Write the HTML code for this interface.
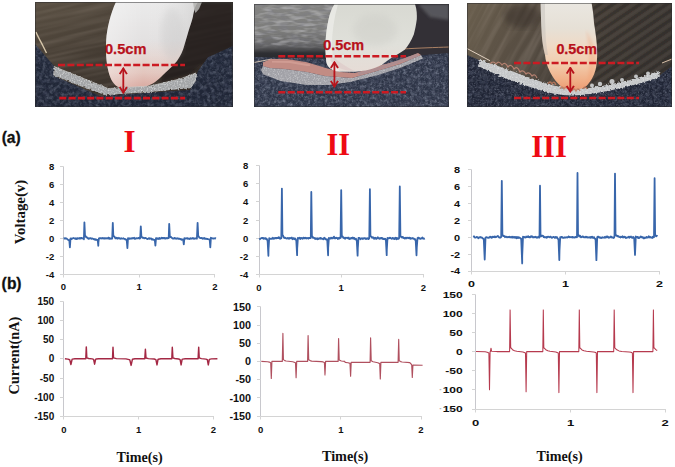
<!DOCTYPE html>
<html><head><meta charset="utf-8"><style>
html,body{margin:0;padding:0;background:#fff;}
body{width:675px;height:467px;overflow:hidden;position:relative;}
svg{position:absolute;left:0;top:0;}
.ax{fill:none;stroke:#d4d4d4;stroke-width:1;}
.vl{fill:none;stroke:#3866ab;stroke-width:1.8;stroke-linejoin:round;}
.cl{fill:none;stroke:#b43a52;stroke-width:1.3;stroke-linejoin:round;}
.tl{font-family:"Liberation Sans",sans-serif;font-weight:bold;font-size:9.5px;fill:#111;}
.tv{font-family:"Liberation Sans",sans-serif;font-weight:bold;font-size:9.3px;fill:#111;}
.tl1{font-family:"Liberation Sans",sans-serif;font-weight:bold;font-size:10px;fill:#111;}
.tl2{font-family:"Liberation Sans",sans-serif;font-weight:bold;font-size:10.8px;fill:#111;}
.rn{font-family:"Liberation Serif",serif;font-weight:bold;font-size:31px;fill:#ee0a14;}
.lab{font-family:"Liberation Serif",serif;font-weight:bold;fill:#111;}
.pl{font-family:"Liberation Sans",sans-serif;font-weight:bold;font-size:15.6px;fill:#111;stroke:#111;stroke-width:0.3px;}
.cm{font-family:"Liberation Sans",sans-serif;font-weight:bold;font-size:14.4px;fill:#b8121c;stroke:#b8121c;stroke-width:0.25px;}
</style></head><body>
<svg width="675" height="467" viewBox="0 0 675 467">
<defs>
<filter id="grain" x="0" y="0" width="100%" height="100%">
  <feTurbulence type="fractalNoise" baseFrequency="0.55" numOctaves="3" seed="4" result="n"/>
  <feColorMatrix type="matrix" values="0 0 0 0 0.75  0 0 0 0 0.8  0 0 0 0 0.95  0 0 0 2.0 -0.95" in="n" result="w"/>
  <feComposite in="w" in2="SourceGraphic" operator="in"/>
</filter>
<filter id="grain2" x="0" y="0" width="100%" height="100%">
  <feTurbulence type="fractalNoise" baseFrequency="0.7" numOctaves="2" seed="9" result="n"/>
  <feColorMatrix type="matrix" values="0 0 0 0 1  0 0 0 0 1  0 0 0 0 1  0 0 0 2.2 -1.0" in="n" result="w"/>
  <feComposite in="w" in2="SourceGraphic" operator="in"/>
</filter>
<filter id="woodf" x="0" y="0" width="100%" height="100%">
  <feTurbulence type="fractalNoise" baseFrequency="0.012 0.22" numOctaves="2" seed="2" result="n"/>
  <feColorMatrix type="matrix" values="0 0 0 0 0.55  0 0 0 0 0.47  0 0 0 0 0.40  0 0 0 1.6 -0.55" in="n" result="w"/>
  <feComposite in="w" in2="SourceGraphic" operator="in"/>
</filter>
<filter id="fabL" x="0" y="0" width="100%" height="100%">
  <feTurbulence type="fractalNoise" baseFrequency="0.28" numOctaves="3" seed="7" result="n0"/>
  <feGaussianBlur in="n0" stdDeviation="0.45" result="n"/>
  <feColorMatrix type="matrix" values="0 0 0 0 0.6  0 0 0 0 0.66  0 0 0 0 0.8  0 0 0 2.6 -1.12" in="n" result="w"/>
  <feComposite in="w" in2="SourceGraphic" operator="in"/>
</filter>
<filter id="fabD" x="0" y="0" width="100%" height="100%">
  <feTurbulence type="fractalNoise" baseFrequency="0.25" numOctaves="2" seed="21" result="n0"/>
  <feGaussianBlur in="n0" stdDeviation="0.5" result="n"/>
  <feColorMatrix type="matrix" values="0 0 0 0 0.05  0 0 0 0 0.06  0 0 0 0 0.1  0 0 0 3.0 -1.35" in="n" result="w"/>
  <feComposite in="w" in2="SourceGraphic" operator="in"/>
</filter>
<filter id="knit" x="0" y="0" width="100%" height="100%">
  <feTurbulence type="fractalNoise" baseFrequency="0.09 0.32" numOctaves="2" seed="5" result="n0"/>
  <feGaussianBlur in="n0" stdDeviation="0.5" result="n"/>
  <feColorMatrix type="matrix" values="0 0 0 0 0.2  0 0 0 0 0.2  0 0 0 0 0.24  0 0 0 3.0 -1.25" in="n" result="w"/>
  <feComposite in="w" in2="SourceGraphic" operator="in"/>
</filter>
<filter id="knitL" x="0" y="0" width="100%" height="100%">
  <feTurbulence type="fractalNoise" baseFrequency="0.08 0.3" numOctaves="2" seed="15" result="n0"/>
  <feGaussianBlur in="n0" stdDeviation="0.5" result="n"/>
  <feColorMatrix type="matrix" values="0 0 0 0 0.75  0 0 0 0 0.75  0 0 0 0 0.78  0 0 0 3.0 -1.3" in="n" result="w"/>
  <feComposite in="w" in2="SourceGraphic" operator="in"/>
</filter>
<filter id="fuzz" x="-5%" y="-20%" width="110%" height="140%">
  <feTurbulence type="fractalNoise" baseFrequency="0.5" numOctaves="2" seed="3" result="t"/>
  <feDisplacementMap in="SourceGraphic" in2="t" scale="3.5" xChannelSelector="R" yChannelSelector="G" result="d"/>
  <feGaussianBlur in="d" stdDeviation="0.4"/>
</filter>
<filter id="blur1"><feGaussianBlur stdDeviation="0.7"/></filter>
<filter id="blur2"><feGaussianBlur stdDeviation="1.5"/></filter>
<filter id="blur3"><feGaussianBlur stdDeviation="3"/></filter>
<linearGradient id="wood1" x1="0" y1="0" x2="0.7" y2="1">
  <stop offset="0" stop-color="#5a5043"/><stop offset="0.35" stop-color="#4a4137"/><stop offset="0.7" stop-color="#3a322b"/><stop offset="1" stop-color="#2c2520"/>
</linearGradient>
<linearGradient id="fing1" x1="0" y1="0" x2="0" y2="1">
  <stop offset="0" stop-color="#ebebeb"/><stop offset="0.45" stop-color="#e3e1e1"/><stop offset="0.62" stop-color="#e5d8d4"/><stop offset="0.82" stop-color="#e3c6be"/><stop offset="1" stop-color="#d9a79e"/>
</linearGradient>
<linearGradient id="fing1s" x1="0" y1="0" x2="1" y2="0">
  <stop offset="0" stop-color="#fff" stop-opacity="0.35"/><stop offset="0.4" stop-color="#fff" stop-opacity="0"/><stop offset="1" stop-color="#888" stop-opacity="0.2"/>
</linearGradient>
<linearGradient id="fab" x1="0" y1="0" x2="0" y2="1">
  <stop offset="0" stop-color="#232a3b"/><stop offset="1" stop-color="#1f2535"/>
</linearGradient>
<linearGradient id="bg2" x1="0" y1="0" x2="0" y2="1">
  <stop offset="0" stop-color="#858583"/><stop offset="0.55" stop-color="#7c7c7a"/><stop offset="0.85" stop-color="#626264"/><stop offset="1" stop-color="#404146"/>
</linearGradient>
<linearGradient id="fing2" x1="0" y1="0" x2="0" y2="1">
  <stop offset="0" stop-color="#d8d9d2"/><stop offset="0.6" stop-color="#e0e0da"/><stop offset="1" stop-color="#e6dcd6"/>
</linearGradient>
<linearGradient id="wood3" x1="0" y1="0" x2="1" y2="0.3">
  <stop offset="0" stop-color="#6a5f4e"/><stop offset="0.3" stop-color="#5a5044"/><stop offset="0.6" stop-color="#48413a"/><stop offset="1" stop-color="#3f3a36"/>
</linearGradient>
<linearGradient id="fing3" x1="0" y1="0" x2="0" y2="1">
  <stop offset="0" stop-color="#eae7e1"/><stop offset="0.3" stop-color="#e6e0d6"/><stop offset="0.5" stop-color="#efdac6"/><stop offset="0.7" stop-color="#f2cdae"/><stop offset="0.9" stop-color="#f0ae86"/><stop offset="1" stop-color="#eb9c74"/>
</linearGradient>
<pattern id="stripes2" width="6" height="3.4" patternUnits="userSpaceOnUse">
  <rect y="0" width="6" height="1.3" fill="#a4a4a2" fill-opacity="0.22"/>
</pattern>
<pattern id="diag3" width="8" height="7.5" patternUnits="userSpaceOnUse" patternTransform="rotate(-34)">
  <rect width="8" height="2.8" fill="#1c1816" fill-opacity="0.34"/>
  <rect y="4.3" width="8" height="1.6" fill="#6a625a" fill-opacity="0.14"/>
</pattern>
<clipPath id="cp3L"><path d="M467,3 L592,3 L592,107 L467,107 Z"/></clipPath>
<linearGradient id="band2" x1="0" y1="0" x2="0" y2="1">
  <stop offset="0" stop-color="#5a5a5c" stop-opacity="0"/><stop offset="0.3" stop-color="#4c4c4e" stop-opacity="0.8"/><stop offset="0.6" stop-color="#2e2f33"/><stop offset="1" stop-color="#282a2f"/>
</linearGradient>
<clipPath id="cp1"><rect x="35" y="2" width="198" height="105"/></clipPath>
<clipPath id="cp2"><rect x="254" y="4" width="195" height="103"/></clipPath>
<clipPath id="cp3"><rect x="467" y="3" width="205" height="104"/></clipPath>
<marker id="ah" viewBox="0 0 10 10" refX="8.6" refY="5" markerWidth="7.5" markerHeight="8.6" orient="auto-start-reverse" markerUnits="userSpaceOnUse" preserveAspectRatio="none">
  <path d="M1,0.8 L8.6,5 L1,9.2" fill="none" stroke="#b8141c" stroke-width="2.2" stroke-linejoin="miter"/>
</marker>
</defs>

<!-- ============ PHOTO 1 ============ -->
<g clip-path="url(#cp1)">
  <rect x="35" y="2" width="198" height="105" fill="url(#wood1)"/>
  <rect x="-5" y="-40" width="280" height="190" fill="#fff" filter="url(#woodf)" transform="rotate(-12 130 50)" opacity="0.2"/>
  <!-- glass edge highlight -->
  <path d="M36,32 C38,37 41,42 43,46 C44.5,49 45.5,51 46.5,53" stroke="#e2d2b4" stroke-width="1.4" fill="none" opacity="0.9"/>
  <!-- right dark region -->
  <path d="M182,2 L233,2 L233,48 L200,66 L190,74 L160,84 Z" fill="#221d1b" opacity="0.75" filter="url(#blur2)"/>
  <!-- finger -->
  <path id="f1" d="M116.4,1 C111,12 107,28 106.2,40 C105.6,52 106,66 110.3,77.3 C113,84 117,88 124,88.5 L140,88 C150,86 156,82 161,77 C168,70 173,66 177,61 C181,55 183,50 184,46.4 C186,40 187.5,35 188.4,31.6 C190,26 192,21 192.9,16.8 C193.5,13 194,11 194.4,9.4 C195.5,6 197,3 199,1 Z" fill="url(#fing1)"/>
  <path d="M116.4,1 C111,12 107,28 106.2,40 C105.6,52 106,66 110.3,77.3 C113,84 117,88 124,88.5 L140,88 C150,86 156,82 161,77 C168,70 173,66 177,61 C181,55 183,50 184,46.4 C186,40 187.5,35 188.4,31.6 C190,26 192,21 192.9,16.8 C193.5,13 194,11 194.4,9.4 C195.5,6 197,3 199,1 Z" fill="url(#fing1s)"/>
  <ellipse cx="172" cy="34" rx="11" ry="26" fill="#c4c4c4" opacity="0.3" filter="url(#blur3)"/>
  <path d="M193,2 L202,2 L199,9 L195.5,13 L194,9 Z" fill="#b4b4b2" opacity="0.85" filter="url(#blur1)"/>
  <!-- fabric -->
  <path d="M35,44 L42,52 L48,59 L54.3,66 L54,76 L100,96 L190,90 L198.5,70 L208,57.3 L233,46 L233,108 L35,108 Z" fill="url(#fab)"/>
  <path d="M35,44 L42,52 L48,59 L54.3,66 L54,76 L100,96 L190,90 L198.5,70 L208,57.3 L233,46 L233,108 L35,108 Z" fill="#fff" opacity="0.25" filter="url(#fabL)"/>
  <path d="M35,44 L42,52 L48,59 L54.3,66 L54,76 L100,96 L190,90 L198.5,70 L208,57.3 L233,46 L233,108 L35,108 Z" fill="#fff" opacity="0.6" filter="url(#fabD)"/>
  <!-- silver strip -->
  <path d="M54,66.5 L80,77 L108,88.5 L150,86 L180,79 L196,73 L196.5,80 L191,88 L150,92 L105,95 L80,86 L53,75 Z" fill="#a3a5a7" filter="url(#fuzz)"/>
  <path d="M54,66.5 L80,77 L108,88.5 L150,86 L180,79 L196,73 L196.5,80 L191,88 L150,92 L105,95 L80,86 L53,75 Z" fill="#ffffff" opacity="0.6" filter="url(#grain2)"/>
  <path d="M54,66.5 L80,77 L108,88.5 L150,86 L180,79 L196,73" stroke="#c8c8c4" stroke-width="1" fill="none" opacity="0.7"/>
  <!-- dashed lines -->
  <path d="M58,64.9 H185" stroke="#cc1a22" stroke-width="2.5" stroke-dasharray="7 2.4" fill="none"/>
  <path d="M59.3,98.2 H185" stroke="#d0141e" stroke-width="2.8" stroke-dasharray="7 2.3" fill="none"/>
  <!-- arrow -->
  <path d="M123.3,68.4 V92.7" stroke="#b8141c" stroke-width="1.8" fill="none" marker-start="url(#ah)" marker-end="url(#ah)"/>
  <text x="105.0" y="53.9" class="cm" textLength="41.4" lengthAdjust="spacingAndGlyphs">0.5cm</text>
</g>

<!-- ============ PHOTO 2 ============ -->
<g clip-path="url(#cp2)">
  <rect x="254" y="4" width="195" height="103" fill="#2d3446"/>
  <rect x="254" y="4" width="110" height="50" fill="url(#bg2)"/>
  <rect x="254" y="4" width="110" height="50" fill="#fff" filter="url(#knit)" opacity="0.42"/>
  <rect x="254" y="4" width="110" height="50" fill="#fff" filter="url(#knitL)" opacity="0.35"/>
  <rect x="254" y="44" width="110" height="15" fill="url(#band2)"/>
  <rect x="330" y="52" width="119" height="7" fill="#2a2c31"/>
  <!-- right dark hand -->
  <path d="M400,4 L449,4 L449,56 L410,58 L395,52 Z" fill="#333036"/>
  <path d="M418,4 L449,4 L449,20 L430,17 Z" fill="#56565c" filter="url(#blur2)"/>
  <!-- fabric -->
  <path d="M254,57 L330,59 L400,57 L449,53 L449,108 L254,108 Z" fill="#2d3446"/>
  <path d="M254,57 L330,59 L400,57 L449,53 L449,108 L254,108 Z" fill="#fff" opacity="0.3" filter="url(#fabL)"/>
  <path d="M254,57 L330,59 L400,57 L449,53 L449,108 L254,108 Z" fill="#a8b8d8" opacity="0.3" filter="url(#grain)"/>
  <path d="M254,57 L330,59 L400,57 L449,53 L449,108 L254,108 Z" fill="#fff" opacity="0.7" filter="url(#fabD)"/>
  <!-- wire -->
  <path d="M254,62.5 C260,61.5 266,60 272,59" stroke="#d0c0b0" stroke-width="1" fill="none"/>
  <path d="M402,49 C420,48 435,47.5 449,47" stroke="#b88a6a" stroke-width="0.9" fill="none"/>
  <!-- strip body (gray side) -->
  <path d="M263,66 L270,68 L285,69 L307,72 L325,76 L352,78 L375,71.5 L400,64 L421,55 L423,58.5 L400,68 L378,75 L350,82 L328.7,85 L307,85 L280.7,81 L263,74.3 L261,70 Z" fill="#a2a2a8"/>
  <path d="M263,66 L270,68 L285,69 L307,72 L325,76 L352,78 L375,71.5 L400,64 L421,55 L423,58.5 L400,68 L378,75 L350,82 L328.7,85 L307,85 L280.7,81 L263,74.3 L261,70 Z" fill="#fff" opacity="0.45" filter="url(#grain2)"/>
  <!-- strip top surface pink -->
  <path d="M263,62.3 L271,59 L287,59 L307,62.3 L325,67.7 L340,72 L355,73 L375,67 L400,60 L418,53 L421,55 L400,64 L375,71.5 L352,78 L325,76 L307,72 L285,69 L270,68 L263,66 Z" fill="#c28c84"/>
  <path d="M272,61.5 L290,62 L310,65.5" stroke="#dcaaa0" stroke-width="2" fill="none" opacity="0.55" filter="url(#blur1)"/>
  <path d="M358,74 L380,68 L418,55" stroke="#a89096" stroke-width="3" fill="none" opacity="0.7" filter="url(#blur1)"/>
  <!-- finger -->
  <path d="M334.6,4 L415,4 C417,10 417,15 416.8,19.2 C416,25 415,30 413.8,34.4 C411,41 408,46 404.7,49.7 C400,53 396,55.5 392.5,57.3 C388,60 385,62.5 381.8,64.9 C377,67 373,68.5 369.7,69.4 C364,70.8 359,71.5 354.4,71.7 C347,72 340,72 335,71 C330,69 327,66 326.3,61.8 C325.5,55 325.3,48 325.5,42 C326,34 327,26 328.6,19.2 C330,13 332,8 334.6,4 Z" fill="url(#fing2)"/>
  <path d="M334.6,4 C332,8 330,13 328.6,19.2 C327,26 326,34 325.5,42 C325.3,48 325.5,55 326.3,61.8 C327,66 330,69 335,71 L340,71.5 C334,64 332,55 332,45 C332,32 334,18 338,4 Z" fill="#f2f2ee" opacity="0.6"/>
  <ellipse cx="375" cy="30" rx="22" ry="16" fill="#c8c8c2" opacity="0.35" filter="url(#blur3)"/>
  <path d="M330,60 C335,68 345,71 355,71 C345,66 338,62 332,55 Z" fill="#dcc4c4" opacity="0.5" filter="url(#blur1)"/>
  <!-- dashed -->
  <path d="M278.3,56.2 H406" stroke="#cc1a22" stroke-width="2.5" stroke-dasharray="7 2.4" fill="none"/>
  <path d="M278.3,92.2 H406" stroke="#cc1a22" stroke-width="2.5" stroke-dasharray="7 2.4" fill="none"/>
  <path d="M334.4,62.3 V86.5" stroke="#b8141c" stroke-width="1.8" fill="none" marker-start="url(#ah)" marker-end="url(#ah)"/>
  <text x="323.3" y="49.6" class="cm" textLength="40.9" lengthAdjust="spacingAndGlyphs">0.5cm</text>
</g>

<!-- ============ PHOTO 3 ============ -->
<g clip-path="url(#cp3)">
  <rect x="467" y="3" width="205" height="104" fill="url(#wood3)"/>
  <g clip-path="url(#cp3L)"><rect x="440" y="-60" width="260" height="230" fill="#fff" filter="url(#woodf)" transform="rotate(-62 570 55)" opacity="0.28"/></g>
  <ellipse cx="522" cy="16" rx="18" ry="12" fill="#2e2824" opacity="0.45" filter="url(#blur3)"/>
  <rect x="585" y="3" width="87" height="80" fill="url(#diag3)" filter="url(#blur1)"/>
  <!-- fabric -->
  <path d="M467,55 L479,60 L488,63 L511,73 L534,81 L557,87 L570,90.5 L590,89 L620,84 L659,76 L672,66 L672,108 L467,108 Z" fill="#1f2434"/>
  <path d="M467,55 L479,60 L488,63 L511,73 L534,81 L557,87 L570,90.5 L590,89 L620,84 L659,76 L672,66 L672,108 L467,108 Z" fill="#fff" opacity="0.18" filter="url(#fabL)"/>
  <path d="M467,55 L479,60 L488,63 L511,73 L534,81 L557,87 L570,90.5 L590,89 L620,84 L659,76 L672,66 L672,108 L467,108 Z" fill="#a8b0c8" opacity="0.3" filter="url(#grain)"/>
  <path d="M467,55 L479,60 L488,63 L511,73 L534,81 L557,87 L570,90.5 L590,89 L620,84 L659,76 L672,66 L672,108 L467,108 Z" fill="#fff" opacity="0.6" filter="url(#fabD)"/>
  <!-- wire -->
  <path d="M467,48.5 L490,60.7" stroke="#e0d0c0" stroke-width="1" fill="none"/>
  <path d="M662,63 L672,59" stroke="#d8c0a8" stroke-width="1" fill="none"/>
  <!-- strip -->
  <path d="M480,60 C500,66 520,75 545,83 C560,88 575,90 590,88 C615,84 640,78 659,71 L660,77 C640,84 615,90 590,94 C570,97 555,95 540,90 C515,83 495,74 478,66 Z" fill="#c4c6c8" filter="url(#fuzz)"/>
  <path d="M480,60 C500,66 520,75 545,83 C560,88 575,90 590,88 C615,84 640,78 659,71 L660,77 C640,84 615,90 590,94 C570,97 555,95 540,90 C515,83 495,74 478,66 Z" fill="#fff" opacity="0.5" filter="url(#grain2)"/>
  <!-- electrode bumps -->
  <g fill="none" stroke="#c48a78" stroke-width="1.2" opacity="0.85">
    <path d="M490,64 q3,-4 6,0 q3,-4 6,1 q3,-4 6,2 q3,-4 6,2 q3,-4 6,3 q3,-3 6,2 q3,-3 6,2 q3,-3 5,2"/>
  </g>
  <g fill="#d0d2d4" opacity="0.9">
    <circle cx="592" cy="85.5" r="2"/><circle cx="600" cy="84" r="2.2"/><circle cx="612" cy="81.5" r="2.5"/><circle cx="622" cy="80" r="2"/><circle cx="636" cy="76.5" r="2"/><circle cx="648" cy="73.5" r="2"/>
  </g>
  <!-- finger -->
  <path d="M540.6,2 L591.4,2 C592.5,8 593.6,15 594,22.9 C595.5,32 597,42 597.2,52 C597.2,60 596.5,66 595.5,70 C594,76 591,81 587,85.5 C584,88 580,89.5 575,89.6 C570,89.6 565,89 561,86.5 C557,83 553,78 550,72 C547,66 545.5,60 545,55 C543,46 542,40 541.8,34.4 C541,22 540.8,12 540.6,2 Z" fill="url(#fing3)"/>
  <path d="M586,30 C592,40 596,50 596,60 C595,70 592,78 587,84 C590,70 590,50 586,30 Z" fill="#f09060" opacity="0.25" filter="url(#blur2)"/>
  <path d="M540.6,2 C540.8,12 541,22 541.8,34.4 C542,42 543,48 545,55 L548,55 C546.5,46 545.5,38 545.5,30 C545,20 545,10 545,2 Z" fill="#b8b4b0" opacity="0.35" filter="url(#blur1)"/>
  <g fill="none" stroke="#c07a5e" stroke-width="1.3" opacity="0.85">
    <path d="M548,84 q2,-4 4,0 q2,-4 4,1 M560,89 q2,-4 4,0 q2,-4 4,0 M572,91 q2,-4 4,0 q2,-4 4,0 M583,89 q2,-4 4,0"/>
  </g>
  <!-- dashed -->
  <path d="M514,63 H639" stroke="#cc1a22" stroke-width="2.5" stroke-dasharray="7 2.4" fill="none"/>
  <path d="M514,98 H639" stroke="#cc1a22" stroke-width="2.5" stroke-dasharray="7 2.4" fill="none"/>
  <path d="M570.3,67.8 V91.5" stroke="#b8141c" stroke-width="1.8" fill="none" marker-start="url(#ah)" marker-end="url(#ah)"/>
  <text x="556.4" y="53.9" class="cm" textLength="40.7" lengthAdjust="spacingAndGlyphs">0.5cm</text>
</g>

<g fill="none" stroke="#2a2a2c" stroke-width="0.9" opacity="0.55">
  <rect x="35.45" y="2.45" width="197.1" height="104.1"/>
  <rect x="254.45" y="4.45" width="194.1" height="102.1"/>
  <rect x="467.45" y="3.45" width="204.1" height="103.1"/>
</g>

<text y="143" class="pl"><tspan x="1.7">(</tspan><tspan x="6.7">a</tspan><tspan x="15.5">)</tspan></text>
<text y="289" class="pl"><tspan x="1.4">(</tspan><tspan x="7.0">b</tspan><tspan x="16.2">)</tspan></text>
<text x="123.5" y="151.7" class="rn">I</text>
<text x="326.5" y="154.9" class="rn" textLength="23.5" lengthAdjust="spacingAndGlyphs">II</text>
<text x="531.2" y="156.8" class="rn" textLength="35.6" lengthAdjust="spacingAndGlyphs">III</text>
<text transform="translate(25.2,244.3) rotate(-90)" class="lab" font-size="15.3" textLength="64.5" lengthAdjust="spacingAndGlyphs">Voltage(v)</text>
<text transform="translate(18.6,394.6) rotate(-90)" class="lab" font-size="15.3" textLength="78" lengthAdjust="spacingAndGlyphs">Current(nA)</text>
<text x="116.6" y="461.8" class="lab" font-size="15.2" textLength="46" lengthAdjust="spacingAndGlyphs">Time(s)</text>
<text x="321.9" y="461.2" class="lab" font-size="15.2" textLength="46.4" lengthAdjust="spacingAndGlyphs">Time(s)</text>
<text x="536.6" y="460.8" class="lab" font-size="15.2" textLength="46" lengthAdjust="spacingAndGlyphs">Time(s)</text>
<path d="M63.5,166.5V274.5" class="ax" style="stroke:#c8c8cd"/>
<path d="M63.5,274.5H215" class="ax"/>
<path d="M60,166.5H63.5M60,184.5H63.5M60,202.5H63.5M60,220.5H63.5M60,238.5H63.5M60,256.5H63.5M60,274.5H63.5M63.5,274.5v3M139.5,274.5v3M214.5,274.5v3" class="ax"/>
<text x="54.2" y="169.7" class="tl" text-anchor="end">8</text>
<text x="54.2" y="187.7" class="tl" text-anchor="end">6</text>
<text x="54.2" y="205.7" class="tl" text-anchor="end">4</text>
<text x="54.2" y="223.7" class="tl" text-anchor="end">2</text>
<text x="54.2" y="241.7" class="tl" text-anchor="end">0</text>
<text x="54.2" y="259.7" class="tl" text-anchor="end">-2</text>
<text x="54.2" y="277.7" class="tl" text-anchor="end">-4</text>
<text x="63.5" y="290.4" class="tl" text-anchor="middle">0</text>
<text x="139.2" y="290.4" class="tl" text-anchor="middle">1</text>
<text x="214.8" y="290.4" class="tl" text-anchor="middle">2</text>
<path d="M63.9,238.5 64.2,238.2 64.4,238.6 64.7,238.4 65.2,238.6 65.4,238.2 65.9,238.6 66.4,238.4 68.4,240.2 69.3,240.1 69.9,247.4 70.5,238.5 70.7,238.9 70.9,238.7 71.4,239.1 71.7,238.5 71.9,238.9 72.2,238.5 73.4,238 74.4,238.6 74.9,238.6 75.2,238.2 75.4,238.7 76.2,239.1 76.4,238.3 76.7,238.9 77.2,238.7 77.4,238.1 77.7,238.7 77.9,238.3 78.7,238.5 78.9,238.3 79.2,238.6 79.4,238.5 79.9,237.9 80.2,238.6 80.7,238 81.4,238.3 81.7,238 83.2,238.6 83.4,238 83.9,239.3 84.4,222.3 85,235.5 85.2,235.5 85.7,236.7 85.9,236.5 86.4,237.4 86.7,237.1 87.4,238.1 87.7,238.1 88.4,238.7 88.9,238.3 89.4,238.7 90.4,238.1 91.4,238.8 91.9,238.3 94.2,239.4 94.7,239.1 95.2,239.9 95.7,239.3 96.4,239.8 96.7,239.7 96.9,240 97.2,239.8 97.7,240 98.3,245.8 98.4,242.5 98.9,238.3 98.9,238.4 99.4,238.1 100.2,238.4 100.7,238.1 100.9,238.4 101.2,238.3 101.7,238.5 102.2,238 102.4,238.3 102.9,238.2 103.4,238.4 103.7,238.2 103.9,238.6 104.7,238.1 104.9,238.5 105.2,238.3 105.4,238.5 105.9,238.2 106.7,238.5 106.9,238.2 107.2,238.5 107.7,238.2 107.9,238.3 108.2,237.8 108.4,238 108.7,237.6 109.2,238.8 109.7,238.2 110.2,238.3 110.4,238.7 110.9,238.8 111.4,238.3 111.9,238.2 112.2,238.5 112.8,222.8 113.3,235.6 113.4,235.3 113.7,236.1 114.7,237 115.4,238.4 115.7,238 116.4,238.3 116.7,237.8 116.9,238.4 117.7,238.2 117.9,238.7 118.9,237.8 119.2,238.2 119.7,238.4 120.2,238.9 120.4,238.6 120.9,238.5 121.2,238.2 121.4,238.6 123.2,238.6 123.4,238.2 123.7,238.6 124.7,238.8 124.9,239.2 125.2,239 125.7,239.6 126.7,239.6 127.4,248.1 128,238.2 128.2,238.4 128.4,238.3 128.9,238.7 129.2,238.4 129.4,238.7 129.7,238.5 129.9,238.8 130.2,238.4 131.2,238.6 131.7,238.2 131.9,238.6 132.4,238.1 132.7,238.3 132.9,238 133.4,238.3 134.2,237.8 134.7,238.7 134.9,238.4 135.2,238.7 135.4,238.6 135.7,238.8 136.2,238.1 138.2,238.3 138.4,237.9 138.7,238 139.2,237.7 139.7,238.6 139.9,238.2 140.2,238.3 140.8,226.4 141.4,236.7 141.9,236.9 142.4,237.8 143.2,237.8 143.4,237.6 144.2,238.3 145.7,237.9 146.9,238.9 147.7,239.1 149.2,238.1 149.7,238.9 150.9,238.4 151.4,238.6 151.9,239.6 152.4,239.1 152.7,239.6 152.9,239.3 153.4,239.7 153.9,239.7 154.2,240 154.8,240 155.4,245.7 156,238.1 156.2,238.6 156.7,238.2 157.2,238.8 157.7,238.3 158.2,238.5 158.4,239 159.4,238 159.9,238.9 161.7,237.7 161.9,238.3 162.2,238.3 162.4,237.9 163.4,238.3 163.9,237.9 164.2,238.1 164.4,238 164.9,238.5 165.2,238.2 165.7,238.5 166.7,237.9 167.2,238.3 167.7,238.4 168.4,237.7 168.7,238.1 169.2,223.8 169.8,235.7 170.2,236.8 170.4,237 170.9,236.8 171.4,237.6 172.7,238.5 173.7,238.7 174.2,237.9 175.4,238.6 175.7,238.2 176.7,238.8 177.7,238.2 178.7,238.9 179.2,238.6 180.9,239.3 181.2,239.1 181.4,239.6 181.9,239.8 182.2,239.4 182.9,239.6 183.2,239.8 183.8,244.3 184.4,238.1 184.7,238.5 185.7,238.4 185.9,238.6 186.7,238.2 187.4,238.2 187.7,238.7 187.9,238.3 188.2,238.4 189.2,239.1 189.9,238.4 190.7,238.8 190.9,238.2 191.9,238.7 192.9,237.9 193.9,238.9 194.9,238.4 195.2,238.6 195.4,238.3 196.2,238.2 196.4,238.7 196.9,238.7 197.6,222.9 198.2,235.7 198.9,236.7 199.2,237.5 199.4,237.4 200.2,238.1 201.7,237.9 202.4,238.7 203.2,238.2 203.7,238.6 204.2,238 204.9,238.8 205.2,238.5 205.7,238.8 206.4,238.7 206.9,239 207.7,238.9 207.9,239.1 209.2,239.3 209.7,239.7 210.3,247.4 210.9,237.7 212.7,238.5 213.2,238.3 214.2,238.6 214.4,238.3 214.9,238.3 215.4,238.1 215.7,238.5 215.9,238.5" class="vl"/>
<path d="M259.5,165.5V274.5" class="ax" style="stroke:#c8c8cd"/>
<path d="M259.5,274.5H424" class="ax"/>
<path d="M256,165.5H259.5M256,183.5H259.5M256,201.5H259.5M256,220.5H259.5M256,238.5H259.5M256,256.5H259.5M256,274.5H259.5M259.5,274.5v3M341.5,274.5v3M423.5,274.5v3" class="ax"/>
<text x="248.3" y="168.9" class="tl" text-anchor="end">8</text>
<text x="248.3" y="187.1" class="tl" text-anchor="end">6</text>
<text x="248.3" y="205.3" class="tl" text-anchor="end">4</text>
<text x="248.3" y="223.5" class="tl" text-anchor="end">2</text>
<text x="248.3" y="241.7" class="tl" text-anchor="end">0</text>
<text x="248.3" y="259.9" class="tl" text-anchor="end">-2</text>
<text x="248.3" y="278.1" class="tl" text-anchor="end">-4</text>
<text x="259" y="291.3" class="tl" text-anchor="middle">0</text>
<text x="341.2" y="291.3" class="tl" text-anchor="middle">1</text>
<text x="423.4" y="291.3" class="tl" text-anchor="middle">2</text>
<path d="M259.5,238.2 260,239.2 260.8,238.4 261.5,238.2 261.8,237.8 262.2,237.9 262.5,238.2 262.8,237.9 263,238.1 263.2,238 263.5,238.8 263.8,238.6 264.2,238.7 264.5,238.2 265.2,238.7 265.5,238.2 266,238.4 266.2,239 266.5,238.7 266.8,239 267.2,239.9 267.5,240.9 267.6,240.7 268.4,255.8 268.5,249.5 269.2,238.2 269.8,238.8 270.2,238.8 271.2,238.5 271.5,238.9 271.8,238.6 272.5,238.4 272.8,237.8 273.2,238.9 273.5,238.4 273.8,238.6 274,238.1 274.5,238.6 275,237.9 275.5,237.9 276.2,238.4 276.5,237.9 277.2,238 277.8,237.7 278.2,238.1 278.5,238.1 278.8,237.3 279,237.7 279.2,237.5 279.5,238.3 279.8,238 280.2,238.8 281.3,238.2 281.9,188.6 282.4,234.9 282.8,235.5 283,235.4 283.5,237 284.2,238 284.5,237.6 284.8,237.8 285.2,237.6 285.5,238.1 285.8,238 286.2,238.5 286.8,238.4 287.2,238.5 287.8,237.8 288,237.8 289,238.8 289.8,237.9 290.2,238.3 290.8,238.2 291.2,237.7 291.5,238.2 291.8,237.6 292,238.6 292.5,239.3 293,239 293.2,238.2 293.5,238.6 293.8,238.2 294.5,239.1 294.8,238.4 295.2,239.3 295.5,238.8 296.3,240.7 297.1,255.2 297.2,248.5 297.9,237.9 298.2,238.4 298.8,238.1 299.2,238.2 299.8,237.6 300.2,239.1 300.5,238.1 301,238.4 301.2,238.2 301.5,238.4 301.8,238 302,238.5 302.5,238.8 302.8,238.1 303,238.3 303.5,237.6 303.8,238.3 304,238.4 304.2,238.1 304.8,238.3 305.2,237.8 305.8,238.3 306.5,238.1 306.8,238.6 307,237.9 307.2,238.1 308.2,238.2 308.5,238.5 309,237.9 310,238 310.2,237.6 310.5,238.1 310.8,238 311.3,192 311.9,236 312.5,236.4 313,237.9 314.2,237.8 314.8,238.7 315,238.1 315.8,239 316,238.5 316.5,238.9 317.2,238.1 317.8,239.3 318.5,238.9 319,238.2 319.2,238.6 319.5,238.3 320,238.5 320.2,238 320.5,238.7 321,237.9 321.2,238.7 321.8,238.6 322,238.8 323,238.7 323.2,239.3 323.8,238.2 324,238.6 324.5,237.8 324.8,238.6 325.2,239 325.5,238.8 326,239.6 326.2,239.2 326.5,239.5 327,239.2 327.3,240.6 328.1,255.3 328.2,247.7 328.9,237.9 329.2,238.6 329.8,238.2 330,238.6 330.8,238.5 331,237.7 331.5,237.8 331.8,238.3 332.5,238.4 332.8,238.3 333,237.5 333.8,237.2 334,236.7 334.5,238.3 335.2,238.2 335.5,238.4 336,237.7 336.5,238.1 336.8,237.8 337.2,238.3 337.5,238.2 337.8,239 338,238.1 339,238 339.2,238.6 339.5,237.9 340,237.9 340.2,237.1 340.5,238 340.6,237.9 341.2,190.1 341.8,235.9 342,236 342.2,236.6 342.5,236.3 342.8,236.6 343.2,237.8 343.5,237.6 343.8,238 344.2,237.7 345,238.8 345.2,238.4 345.5,238.4 345.8,237.7 346,238 346.5,237.8 347,238 347.2,237.7 348,238.2 348.2,237.6 348.8,237.7 349,238.9 349.5,239 350,238.7 350.2,238.9 351,238 351.2,238.3 351.5,238 351.8,238.3 352,238.1 352.2,238.5 352.8,237.5 353,238 353.2,237.8 353.8,238.7 354,237.8 354.5,238.2 354.8,239 355.2,239.3 355.5,238.9 355.8,239.3 356,238.7 356.8,241 357.6,255.6 357.8,248.4 358.5,237.8 358.8,237.8 359,238.7 359.2,237.9 359.5,238.2 359.8,238.1 360,238.8 360.2,238.8 360.5,239.2 360.8,238.6 361.5,238.7 361.8,238.2 362,238.5 362.2,238.2 362.8,239 363.8,238.1 364.2,238.4 364.8,238.1 365.2,238.1 365.5,238.9 365.8,238.8 366,239.1 366.5,238.4 366.8,238.9 367,238.4 367.8,238.6 368,238.2 368.5,239.1 369.3,238.1 369.9,189.2 370.4,235.6 370.8,236.1 371,236.1 372,237.8 372.5,237.8 372.8,237.3 373,237.6 373.2,237.4 373.8,237.7 374,238.8 374.5,238.3 374.8,238.6 375.2,237.8 375.8,238.5 376,238.1 376.5,238.9 377.8,237.2 378.2,238.2 379,238.1 379.2,238.8 379.5,238.5 380,238.6 380.2,238 381.2,238.6 381.5,237.9 382,237.8 382.5,238.5 382.8,238.4 383,239.2 383.2,238.6 383.5,239.1 384,238.8 384.2,239.2 385,238.7 385.2,239.1 385.5,239 385.9,240.2 386.7,255.2 386.8,249.7 387.5,238 388.2,238.5 389,238 389.2,238.2 389.5,237.7 389.8,238 390.2,238.1 390.5,237.8 390.8,238.2 392,238.9 392.5,237.9 392.8,238.4 393,238.1 393.5,238.7 394.2,238.3 394.8,239.1 395.2,238.6 395.5,237.8 396,238.4 396.2,238 396.8,239.3 397,238 397.2,238.3 398.2,238.5 398.5,238.9 399.2,238 399.8,186.5 400.4,236.3 401.2,236.6 401.8,237.5 402,236.9 402.2,236.9 402.5,237.5 402.8,237 403.5,238 403.8,237.6 404.8,238.6 405.2,238.3 405.5,237.8 406,238.4 406.5,237.8 406.8,238.2 407,237.8 408,237.7 408.5,238.2 408.8,237.9 409.2,238 409.5,237.7 410,237.9 410.2,238.8 410.5,238.8 410.8,238.3 411.2,238.6 412,238.2 412.5,238.3 412.8,238.1 413.2,238.7 413.8,238.5 414.5,239.5 415.2,239.2 415.7,240.5 416.5,255.3 416.8,247.2 417.5,238.1 418,237.7 418.2,238 418.5,237.7 418.8,238.4 419,237.9 419.5,238.5 420,238.8 420.2,238.5 420.8,238.9 422.5,237.5 422.8,238.6 423.2,238.1 423.5,238.6 424,238.4 424.2,238.8 424.8,238.4" class="vl"/>
<path d="M471.5,169.5V271.5" class="ax" style="stroke:#c8c8cd"/>
<path d="M471.5,271.5H660" class="ax"/>
<path d="M468,169.5H471.5M468,186.5H471.5M468,203.5H471.5M468,220.5H471.5M468,237.5H471.5M468,254.5H471.5M468,271.5H471.5M471.5,271.5v3M565.5,271.5v3M659.5,271.5v3" class="ax"/>
<text transform="translate(460.2,173) scale(1.18,1)" class="tv" text-anchor="end">8</text>
<text transform="translate(460.2,189.9) scale(1.18,1)" class="tv" text-anchor="end">6</text>
<text transform="translate(460.2,206.8) scale(1.18,1)" class="tv" text-anchor="end">4</text>
<text transform="translate(460.2,223.7) scale(1.18,1)" class="tv" text-anchor="end">2</text>
<text transform="translate(460.2,240.6) scale(1.18,1)" class="tv" text-anchor="end">0</text>
<text transform="translate(460.2,257.5) scale(1.18,1)" class="tv" text-anchor="end">-2</text>
<text transform="translate(460.2,274.4) scale(1.18,1)" class="tv" text-anchor="end">-4</text>
<text transform="translate(471.5,287.2) scale(1.35,1)" class="tv" text-anchor="middle">0</text>
<text transform="translate(565.5,287.2) scale(1.35,1)" class="tv" text-anchor="middle">1</text>
<text transform="translate(659.4,287.2) scale(1.35,1)" class="tv" text-anchor="middle">2</text>
<path d="M473.5,237.3 474,236.3 474.5,237.2 475.2,237.7 476,237.6 476.5,236.9 477,237.1 477.8,237.1 478.2,238.3 478.5,237.6 479.8,237.5 480,237 480.5,237.1 480.8,237.5 481.8,237.5 483,238.7 483.5,238.7 483.8,239.1 484.7,259.5 485.5,237.5 486.5,237.1 486.8,237.4 487.2,237.3 487.5,237.7 488.2,237.9 489.2,237.2 489.5,237.5 490,236.6 490.5,237.4 491.5,237.1 491.8,237.9 492,236.8 492.5,236.7 492.8,237.1 493.2,236.9 493.5,237.1 493.8,236.8 494,237 494.2,236.6 494.5,236.8 494.8,236.5 495,237.3 495.2,236.8 495.8,237.1 496,236.8 496.2,237.1 497.8,235.9 499,237.4 499.2,237.3 499.5,237.6 500,237.5 500.5,237.7 501.2,236.9 501.8,180.8 502.4,235.5 502.5,235.1 503.2,236.1 503.5,235.7 503.8,236 504,235.9 504.2,236.2 504.5,236.1 505,237.2 505.2,236.7 505.5,236.9 506.2,236.6 507,237.4 507.8,236.9 508.2,237.2 508.8,236.9 509.2,237.4 509.8,236.6 511,237.5 512,236.7 512.5,237.6 513,236.8 513.2,237.2 513.5,237.2 513.8,237.5 514.5,236.9 515,237.7 515.2,237.3 515.5,237.4 515.8,236.9 516.5,238.2 517,237 517.5,237.2 518,238.1 518.8,237.1 519,237.5 519.8,237.6 520.2,238.4 520.8,238.5 521,239.1 521.2,238.8 522.2,263.4 522.2,256.3 523,236.7 523.5,237 523.8,236.9 524.2,237.2 524.5,237 524.8,237.5 525.2,237.6 525.5,237.3 525.8,237.4 526.2,236.5 526.5,237 527.2,237.2 528.2,236.1 528.8,237.2 529.2,237.3 529.8,237 530.2,237.4 530.5,236.6 530.8,236.6 531,236.2 531.2,236.8 532,236.3 532.2,236.9 532.5,236.8 533,237.5 533.5,237.2 534,237.3 534.2,237 534.5,237.3 535.5,236.8 535.8,237.3 536.2,237.4 536.5,237.1 536.8,237.7 537,237.4 537.2,237.8 537.5,237.4 538,237.3 538.5,236.6 539.2,237.7 539.5,237.6 540,185.7 540.5,235.5 541.2,236.4 542,235.5 543,235.8 543.8,237.2 544,237.3 544.2,236.8 544.5,237.4 544.8,237.2 545.8,237.1 546,237.4 546.2,237.3 546.5,237.8 546.8,237.1 547.2,236.9 547.5,237.3 548,236.6 549.5,237.3 550.2,236.6 550.8,236.7 551.5,237.7 552,237.9 553.2,236.8 554,237.3 554.2,237.1 554.8,237.8 555.5,237 555.8,237 556,237.8 557,237.1 557.8,238.8 558.5,239.4 559.3,260 559.5,250.4 560.2,237.1 561,237.1 561.2,237.3 561.5,237 561.8,237.5 562,236.9 563,237.8 563.8,237.9 564.2,237.4 564.8,237.3 565,237.5 565.5,237.4 565.8,237.6 567,237.2 567.5,237.5 568.2,237 568.5,236.4 568.8,237.1 569.2,237.2 569.5,236.8 569.8,236.8 570,237.4 570.2,237 571.8,237.4 572,236.9 572.5,237.5 572.8,237.1 573,237.4 573.5,237.2 574.2,237.6 575.8,236.9 576,237.3 576.2,237.2 576.5,236.8 577,237.2 577.5,172.9 578,234.5 578.2,234.3 578.5,235.3 579.2,236.5 579.8,235.7 580.2,235.8 580.5,236.8 581,237.3 581.2,236.9 581.8,237 582.8,236.3 583,236.3 583.2,237.1 583.5,236.8 584,237.4 584.8,237.3 585,237 585.2,237.4 585.8,236.8 586,237.3 586.2,236.8 586.8,237.4 587,237 587.2,237.1 587.5,237.7 587.8,237.7 588,237.3 588.5,237.5 589,237.3 589.5,237.6 590,236.9 590.2,237.8 590.8,237.1 591,237.4 591.2,236.9 591.5,237.5 592.2,236.6 592.5,237.7 592.8,237.6 593,237.9 593.5,237.3 593.8,237.4 594,237.1 594.5,238.4 594.8,238.7 595.2,238.6 595.6,239.8 596.4,260.2 597.2,237.1 597.2,237.4 597.8,236.7 598,236.7 598.2,237.3 598.8,236.7 599,237.2 600.2,237.9 600.8,237.4 601,238 601.2,238 601.8,237.9 602.5,237.3 602.8,237.6 604,237.6 604.5,236.9 605,237.7 605.2,237.4 605.5,237.6 606.2,236.5 606.8,237.4 607,236.9 607.5,236.5 608.2,237.1 608.5,237.7 608.8,237.2 609.2,237.5 609.5,237.3 609.8,237.5 610,237.1 610.2,237.3 610.5,236.6 610.8,236.5 611.5,236.9 612,237.7 613,237.4 613.5,238 614,237.7 614.5,236.4 615,173.6 615.5,234.3 616.2,235.5 616.5,235.4 616.8,235.8 617,235.6 617.2,236.3 617.8,235.9 618,236.4 618.5,236.2 619,236.8 620,237.2 620.2,237.1 620.5,237.5 620.8,236.8 621,237.1 621.5,237.1 621.8,236.7 622,237 622.5,236.2 623.2,237.5 624.2,236.7 624.5,236.8 625,236.9 625.2,237.6 625.5,237.1 626,238 626.5,237.7 626.8,237.9 627.8,237.1 628.2,237.2 628.5,236.8 629,237.2 629.2,237.8 629.8,236.8 630.2,237 631,236.5 631.5,237.6 632.2,237.3 632.5,237.9 633,237.2 633.5,237 634,238.1 634.2,238.1 635,254.9 635.8,236.4 636.2,237 636.5,236.9 636.8,237.1 637.5,236.8 637.8,236.9 638.2,238.1 638.8,238.2 639,237.6 639.2,237.9 639.5,237.8 640.8,236.5 641,237 641.2,236.7 641.5,237.3 641.8,237.4 642.2,237 642.5,237.2 643.5,238.4 643.8,237.4 644.5,238.2 645,237.7 645.5,237.9 645.8,237.6 646,237.9 646.5,236.9 646.8,237.3 647,237.2 647.8,237.7 648.2,237.4 648.8,236.3 649,237 649.2,236.7 650,237.6 650.5,236.9 651.8,237.7 652,237.5 652.2,238 652.8,236.7 653.5,237.4 654,237.2 654.6,178.2 655.1,234.8 656,236.2 656.2,236.4 656.8,235.8 657.5,236.3" class="vl"/>
<path d="M63.5,301.5V416.5" class="ax" style="stroke:#c8c8cd"/>
<path d="M63.5,416.5H214" class="ax"/>
<path d="M60,301.5H63.5M60,320.5H63.5M60,339.5H63.5M60,358.5H63.5M60,378.5H63.5M60,397.5H63.5M60,416.5H63.5M63.5,416.5v3M138.5,416.5v3M213.5,416.5v3" class="ax"/>
<text x="54.2" y="304.6" class="tl1" text-anchor="end">150</text>
<text x="54.2" y="323.8" class="tl1" text-anchor="end">100</text>
<text x="54.2" y="343.1" class="tl1" text-anchor="end">50</text>
<text x="54.2" y="362.3" class="tl1" text-anchor="end">0</text>
<text x="54.2" y="381.6" class="tl1" text-anchor="end">-50</text>
<text x="54.2" y="400.8" class="tl1" text-anchor="end">-100</text>
<text x="54.2" y="420.1" class="tl1" text-anchor="end">-150</text>
<text x="63.8" y="432.5" class="tl" text-anchor="middle">0</text>
<text x="138.6" y="432.5" class="tl" text-anchor="middle">1</text>
<text x="213.4" y="432.5" class="tl" text-anchor="middle">2</text>
<path d="M64.9,358.8 67.9,359.1 69.7,359.7 70.9,364.6 72.1,359.3 72.4,359.1 74.9,358.8 85.8,358.8 86.3,346.9 86.8,357.9 88.7,358.5 92.2,358.9 93.6,359.4 94.6,364.2 95.6,359.3 96.2,359 98.7,358.8 112.5,358.8 113,347.3 113.5,357.9 116.4,358.6 125.9,358.9 129.2,359.6 129.8,359.9 131.1,365.4 132.4,359.3 134.9,358.8 144.8,358.8 145.4,349.2 146,358 148.4,358.6 154.2,359 155.9,359.6 157,364.9 158,359.4 158.4,359.2 160.9,358.8 171.8,358.8 172.3,347.3 172.9,357.9 174.7,358.5 178.7,359 180.1,359.7 181.1,364.9 182.1,359.4 182.7,359.1 185.2,358.8 198.1,358.8 198.7,347.3 199.2,357.9 201.4,358.6 205.9,359.1 207.3,359.7 208.3,364.9 209.3,359.4 211.4,358.9 217.4,358.8" class="cl" style="stroke:#a42844;stroke-width:1.45"/>
<path d="M260.5,306.5V416.5" class="ax" style="stroke:#c8c8cd"/>
<path d="M260.5,416.5H422" class="ax"/>
<path d="M257,306.5H260.5M257,325.5H260.5M257,343.5H260.5M257,361.5H260.5M257,379.5H260.5M257,397.5H260.5M257,416.5H260.5M260.5,416.5v3M340.5,416.5v3M421.5,416.5v3" class="ax"/>
<text x="251" y="310.6" class="tl2" text-anchor="end">150</text>
<text x="251" y="328.8" class="tl2" text-anchor="end">100</text>
<text x="251" y="347" class="tl2" text-anchor="end">50</text>
<text x="251" y="365.2" class="tl2" text-anchor="end">0</text>
<text x="251" y="383.4" class="tl2" text-anchor="end">-50</text>
<text x="251" y="401.6" class="tl2" text-anchor="end">-100</text>
<text x="251" y="419.8" class="tl2" text-anchor="end">-150</text>
<text x="260.7" y="432.5" class="tl" text-anchor="middle">0</text>
<text x="340.9" y="432.5" class="tl" text-anchor="middle">1</text>
<text x="421" y="432.5" class="tl" text-anchor="middle">2</text>
<path d="M261.3,361.4 267.6,361.7 269.3,362.1 270.7,362.8 271.3,378.5 271.9,361.4 282.3,361.4 282.9,333.4 283.4,359.6 284.8,360.6 286.1,361 292.8,361.7 295.5,362.7 296.1,377.7 296.7,361.4 307.6,361.4 308.1,335.6 308.7,359.7 310.1,360.6 311.6,361.1 321.1,361.6 323.1,361.9 324.4,362.5 325,374.9 325.6,361.4 338.1,361.4 338.6,338.5 339.2,359.9 341.3,361 344.8,361.4 345.1,362.4 348.1,362.7 350,363.4 350.6,376.2 351.2,362.3 370.1,362.3 370.6,337.9 371.2,360.7 373.1,361.8 377.8,362.8 379.7,363.6 380.3,379 380.9,362.3 398.1,362.3 398.7,339.4 399.2,360.8 400.6,361.6 402.1,362 409.8,362.6 411.1,364 411.7,364.8 412.3,377.4 412.9,365.1 422.6,365.2" class="cl" style="stroke:#b0505f;stroke-width:1.15"/>
<path d="M475.5,294.5V409.5" class="ax" style="stroke:#c8c8cd"/>
<path d="M475.5,409.5H666" class="ax"/>
<path d="M472,294.5H475.5M472,313.5H475.5M472,332.5H475.5M472,351.5H475.5M472,370.5H475.5M472,389.5H475.5M472,409.5H475.5M475.5,409.5v3M570.5,409.5v3M665.5,409.5v3" class="ax"/>
<text transform="translate(462.8,297.5) scale(1.3,1)" class="tv" text-anchor="end">150</text>
<text transform="translate(462.8,316.6) scale(1.3,1)" class="tv" text-anchor="end">100</text>
<text transform="translate(462.8,335.8) scale(1.3,1)" class="tv" text-anchor="end">50</text>
<text transform="translate(462.8,354.9) scale(1.3,1)" class="tv" text-anchor="end">0</text>
<text transform="translate(462.8,374.1) scale(1.3,1)" class="tv" text-anchor="end">-50</text>
<text transform="translate(462.8,393.2) scale(1.3,1)" class="tv" text-anchor="end"><tspan fill-opacity="0.3">·</tspan>100</text>
<text transform="translate(462.8,412.4) scale(1.3,1)" class="tv" text-anchor="end"><tspan fill-opacity="0.3">·</tspan>150</text>
<text transform="translate(475.7,425.8) scale(1.4,1)" class="tv" text-anchor="middle">0</text>
<text transform="translate(570.5,425.8) scale(1.4,1)" class="tv" text-anchor="middle">1</text>
<text transform="translate(665.2,425.8) scale(1.4,1)" class="tv" text-anchor="middle">2</text>
<path d="M476,351.6 485.2,351.8 487.2,352.2 488.9,352.9 489.5,389.8 490.1,351.6 490.4,351.6 491,348.2 491.6,351.3 496.8,351.6 509.6,351.6 510.1,309.9 510.7,347.9 510.8,347.7 512.5,349.7 514.5,350.7 516.8,351.3 523,352 525.5,353 526.1,391.8 526.7,351.6 542.8,351.6 543.3,309.9 543.8,347.9 544,347.8 545.8,349.7 547.8,350.8 550,351.3 555.8,352 558.3,353 558.9,392.6 559.5,351.6 578.8,351.6 579.3,309.9 579.8,347.9 580,347.8 582,349.9 584,350.8 586.5,351.3 593.5,351.9 595,352.3 596.3,353 596.9,392.6 597.5,351.6 613.7,351.6 614.2,309.9 614.8,347.9 616.8,349.8 619,350.9 621.8,351.4 629.2,351.9 631,352.3 632.4,353 633,392.6 633.6,351.6 652.9,351.6 653.4,309.9 653.9,347.9 654,347.7 655.8,349.6 657.2,350.5" class="cl" style="stroke:#b63a4e;stroke-width:1.05"/>
</svg>
</body></html>
